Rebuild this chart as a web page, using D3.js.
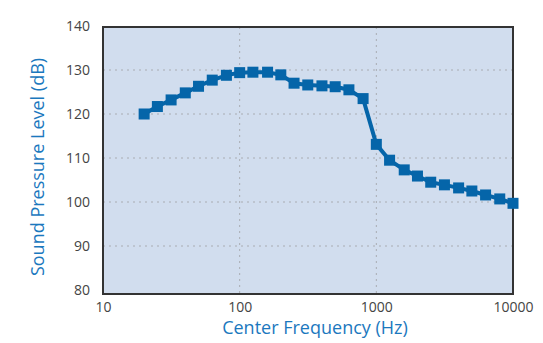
<!DOCTYPE html>
<html>
<head>
<meta charset="utf-8">
<script src="https://cdn.jsdelivr.net/npm/d3@7"></script>
<style>
  body { margin: 0; background: #fff; }
  svg { display: block; font-family: "Open Sans", sans-serif; }
  .tick text { fill: #444; font-size: 14px; }
  .axis-title { fill: #1b78be; font-size: 18px; }
</style>
</head>
<body>
<svg id="chart"></svg>
<script>
// 1/3-octave band centre frequencies (Hz)
const frequencies = [20, 25, 31.5, 40, 50, 63, 80, 100, 125, 160, 200, 250, 315, 400, 500,
  630, 800, 1000, 1250, 1600, 2000, 2500, 3150, 4000, 5000, 6300, 8000, 10000];
// sound pressure level (dB)
const levels = [120.0, 121.7, 123.2, 124.8, 126.3, 127.7, 128.8, 129.4, 129.5, 129.5, 128.9, 127.0, 126.6, 126.4, 126.2,
  125.5, 123.5, 113.1, 109.5, 107.3, 105.9, 104.5, 103.9, 103.2, 102.5, 101.6, 100.7, 99.7];
const xTicks = [10, 100, 1000, 10000];
const yTicks = [80, 90, 100, 110, 120, 130, 140];

const width = 543, height = 343;
const data = frequencies.map((f, i) => ({f: f, v: levels[i]}));

const svg = d3.select('#chart')
    .attr('width', width)
    .attr('height', height);

const xScale = d3.scaleLog().domain([10, 10000]).range([103, 513]);
const yScale = d3.scaleLinear().domain([80, 140]).range([290, 26]);

// plot background
svg.append('rect')
    .attr('x', 103).attr('y', 27)
    .attr('width', 410).attr('height', 267)
    .attr('fill', '#d1ddee');

// dotted grid
svg.append('g')
    .selectAll('line')
    .data(yTicks.filter(d => d > 80 && d < 140))
    .join('line')
    .attr('x1', 103).attr('x2', 513)
    .attr('y1', d => yScale(d)).attr('y2', d => yScale(d))
    .attr('stroke', '#a9acb2').attr('stroke-width', 1).attr('stroke-dasharray', '2,4');

svg.append('g')
    .selectAll('line')
    .data(xTicks.filter(d => d > 10 && d < 10000))
    .join('line')
    .attr('x1', d => xScale(d)).attr('x2', d => xScale(d))
    .attr('y1', 27).attr('y2', 294)
    .attr('stroke', '#a9acb2').attr('stroke-width', 1).attr('stroke-dasharray', '2,4');

// frame
svg.append('rect')
    .attr('x', 103).attr('y', 27)
    .attr('width', 410).attr('height', 267)
    .attr('fill', 'none')
    .attr('stroke', '#333').attr('stroke-width', 2);

// axes (labels only)
const xAxis = d3.axisBottom(xScale).tickValues(xTicks).tickFormat(d3.format('d')).tickSize(0).tickPadding(7);
const yAxis = d3.axisLeft(yScale).tickValues(yTicks).tickSize(0).tickPadding(13);

svg.append('g')
    .attr('transform', 'translate(0,295)')
    .call(xAxis)
    .call(g => g.select('.domain').remove());

svg.append('g')
    .attr('transform', 'translate(103,0)')
    .call(yAxis)
    .call(g => g.select('.domain').remove());

svg.selectAll('.tick text').attr('font-family', '"Open Sans", sans-serif').attr('font-size', 14);

// line + markers
const line = d3.line()
    .x(d => xScale(d.f))
    .y(d => yScale(d.v));

svg.append('path')
    .datum(data)
    .attr('d', line)
    .attr('fill', 'none')
    .attr('stroke', '#0565a9')
    .attr('stroke-width', 4)
    .attr('stroke-linejoin', 'round');

svg.append('g')
    .selectAll('rect')
    .data(data)
    .join('rect')
    .attr('x', d => xScale(d.f) - 5.5)
    .attr('y', d => yScale(d.v) - 5.5)
    .attr('width', 11)
    .attr('height', 11)
    .attr('fill', '#0565a9');

// axis titles
svg.append('text')
    .attr('class', 'axis-title')
    .attr('x', 315)
    .attr('y', 334)
    .attr('text-anchor', 'middle')
    .text('Center Frequency (Hz)');

svg.append('text')
    .attr('class', 'axis-title')
    .attr('transform', 'translate(44,167) rotate(-90)')
    .attr('text-anchor', 'middle')
    .text('Sound Pressure Level (dB)');
</script>
</body>
</html>
